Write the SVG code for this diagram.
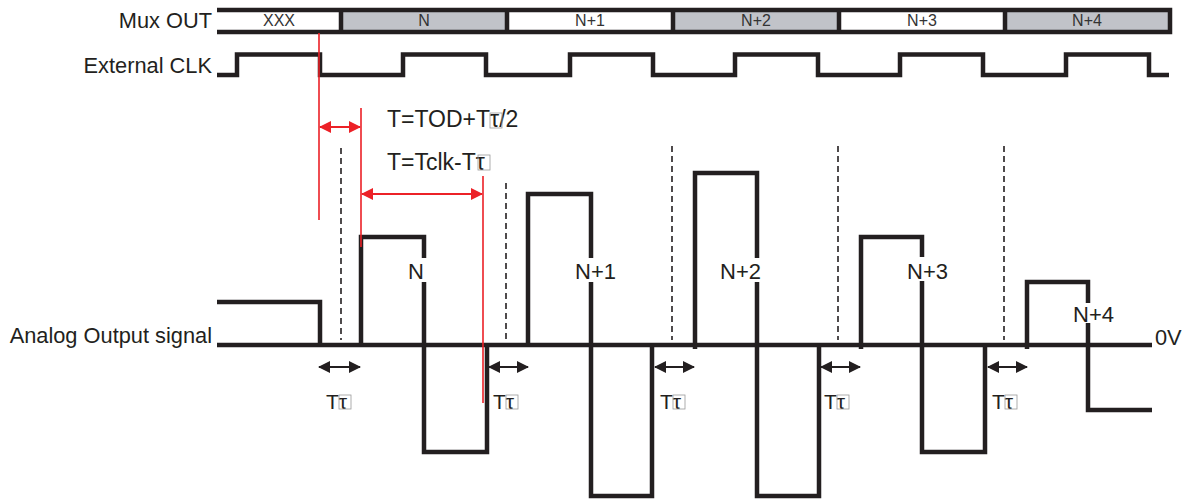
<svg xmlns="http://www.w3.org/2000/svg" width="1199" height="500" viewBox="0 0 1199 500">
<defs>
<style>
text{font-family:"Liberation Sans",Arial,sans-serif;fill:#231f20}
.lbl{font-size:21.8px}
.tau{font-size:21px}
.cell{font-size:16px;text-anchor:middle;fill:#333}
.pl{font-size:22px}
.tl{font-size:23px}
.sig{fill:none;stroke:#231f20;stroke-width:4.5;stroke-linecap:butt;stroke-linejoin:miter}
.dash{fill:none;stroke:#231f20;stroke-width:1.6;stroke-dasharray:6 4}
.red{fill:none;stroke:#ec2127;stroke-width:1.6}
.redarr{fill:none;stroke:#ec2127;stroke-width:2.2}
.blkarr{fill:none;stroke:#231f20;stroke-width:2}
.tbox{fill:none;stroke:#9a9a9a;stroke-width:0.8}
.gray{fill:#c1c3c9}
</style>
<marker id="rh" viewBox="0 0 12 12" refX="11" refY="6" markerWidth="12" markerHeight="12" markerUnits="userSpaceOnUse" orient="auto-start-reverse"><path d="M0,0 L12,6 L0,12 Z" fill="#ec2127"/></marker>
<marker id="bh" viewBox="0 0 12 12" refX="11" refY="6" markerWidth="12" markerHeight="12" markerUnits="userSpaceOnUse" orient="auto-start-reverse"><path d="M0,0 L12,6 L0,12 Z" fill="#231f20"/></marker>
</defs>
<rect width="1199" height="500" fill="#fff"/>

<g id="labels">
<text class="lbl" x="212" y="28" text-anchor="end">Mux OUT</text>
<text class="lbl" x="212" y="73" text-anchor="end">External CLK</text>
<text class="lbl" x="212" y="343" text-anchor="end">Analog Output signal</text>
<text class="lbl" x="1155" y="345">0V</text>
</g>

<g id="mux-out">
<rect class="gray" x="341" y="12" width="166" height="18"/>
<rect class="gray" x="673" y="12" width="166" height="18"/>
<rect class="gray" x="1005" y="12" width="165" height="18"/>
<path class="sig" d="M217,10 H1170 V32 H217"/>
<path class="sig" d="M341,10 V32 M507,10 V32 M673,10 V32 M839,10 V32 M1005,10 V32"/>
<text class="cell" x="279" y="26">XXX</text>
<text class="cell" x="424" y="26">N</text>
<text class="cell" x="590" y="26">N+1</text>
<text class="cell" x="756" y="26">N+2</text>
<text class="cell" x="922" y="26">N+3</text>
<text class="cell" x="1087" y="26">N+4</text>
</g>

<g id="external-clk">
<path class="sig" d="M217,75 H237 V54.5 H320 V75 H403 V54.5 H486 V75 H570 V54.5 H653 V75 H735 V54.5 H818 V75 H900 V54.5 H983 V75 H1066 V54.5 H1149 V75 H1169"/>
</g>

<g id="analog-output">
<path class="sig" d="M217,302 H320 V345"/>
<path class="sig" d="M217,345 H1152"/>
<g id="pulse-N">
<path class="sig" d="M361,345 V237 H424 V258 M424,282 V452 H487 V345"/>
<text class="pl" x="408" y="279">N</text>
</g>
<g id="pulse-N1">
<path class="sig" d="M528,345 V194 H591 V258 M591,282 V496 H652 V345"/>
<text class="pl" x="575" y="279">N+1</text>
</g>
<g id="pulse-N2">
<path class="sig" d="M695,349 V173 H757 V258 M757,282 V496 H819 V345"/>
<text class="pl" x="720" y="279">N+2</text>
</g>
<g id="pulse-N3">
<path class="sig" d="M861,349 V237 H922 V257 M922,281 V452 H985 V345"/>
<text class="pl" x="907" y="279">N+3</text>
</g>
<g id="pulse-N4">
<path class="sig" d="M1027,349 V282 H1088 V303 M1088,323 V410 H1152"/>
<text class="pl" x="1073" y="322">N+4</text>
</g>
</g>

<g id="connectors">
<path class="dash" d="M341,148 V340 M506,183 V340 M672,146 V340 M838,146 V340 M1004,146 V340"/>
<path class="red" d="M319,33 V220 M361,108 V247 M483,176 V403"/>
<path class="redarr" d="M320,127 H360" marker-start="url(#rh)" marker-end="url(#rh)"/>
<path class="redarr" d="M362,194 H482" marker-start="url(#rh)" marker-end="url(#rh)"/>
<path class="blkarr" d="M319,367 H360" marker-start="url(#bh)" marker-end="url(#bh)"/>
<path class="blkarr" d="M489,367 H528" marker-start="url(#bh)" marker-end="url(#bh)"/>
<path class="blkarr" d="M655,367 H694" marker-start="url(#bh)" marker-end="url(#bh)"/>
<path class="blkarr" d="M821,367 H860" marker-start="url(#bh)" marker-end="url(#bh)"/>
<path class="blkarr" d="M988,367 H1027" marker-start="url(#bh)" marker-end="url(#bh)"/>
</g>

<g id="timing-labels">
<text class="tl" x="387" y="127">T=TOD+Tτ/2</text>
<rect class="tbox" x="490" y="113" width="12" height="15"/>
<text class="tl" x="387" y="170">T=Tclk-Tτ</text>
<rect class="tbox" x="478" y="155" width="12" height="15"/>
<g id="tau-1"><text class="tau" x="326" y="409">Tτ</text><rect class="tbox" x="339" y="395" width="12" height="14"/></g>
<g id="tau-2"><text class="tau" x="493" y="409">Tτ</text><rect class="tbox" x="506" y="395" width="12" height="14"/></g>
<g id="tau-3"><text class="tau" x="660" y="409">Tτ</text><rect class="tbox" x="673" y="395" width="12" height="14"/></g>
<g id="tau-4"><text class="tau" x="824" y="409">Tτ</text><rect class="tbox" x="837" y="395" width="12" height="14"/></g>
<g id="tau-5"><text class="tau" x="992" y="409">Tτ</text><rect class="tbox" x="1005" y="395" width="12" height="14"/></g>
</g>
</svg>
